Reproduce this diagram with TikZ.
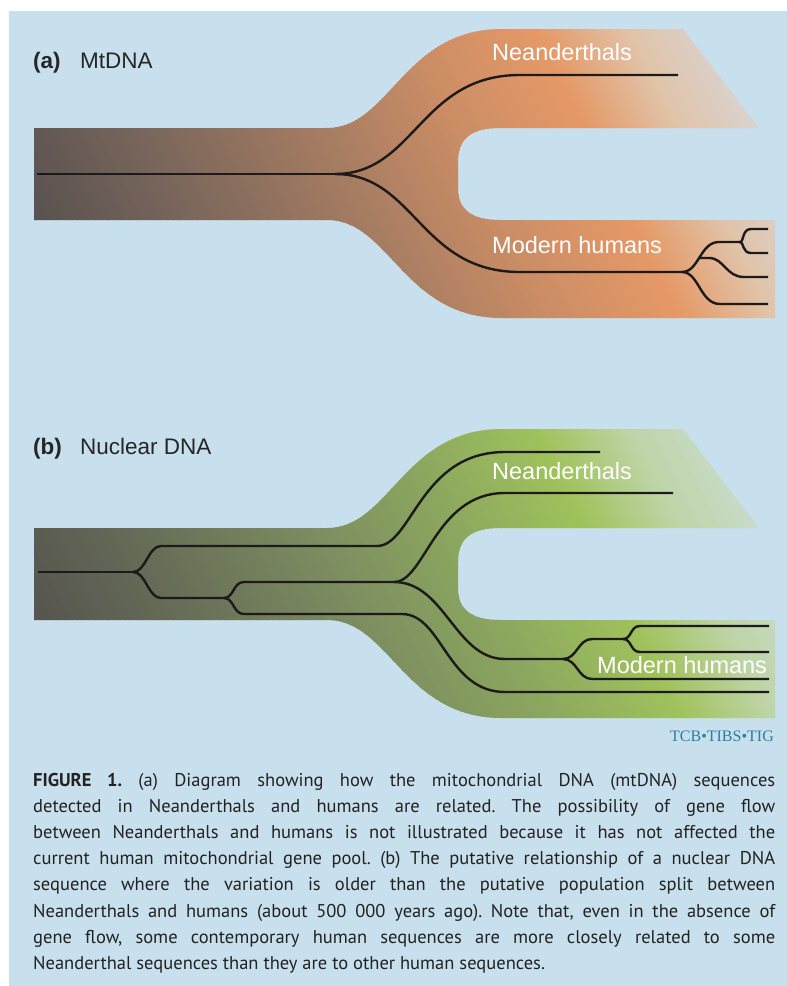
\documentclass[tikz,border=0pt]{standalone}
\usepackage{fontspec}
\setmainfont{Liberation Sans}
\newfontfamily\capfont{PT Sans}
\newfontfamily\serfont{Liberation Serif}
\definecolor{bgblue}{RGB}{200,224,237}
\definecolor{treecol}{RGB}{28,26,26}
\definecolor{ttlcol}{RGB}{38,38,38}
\definecolor{capcol}{RGB}{34,34,34}
\definecolor{tcbcol}{RGB}{40,128,160}
% orange gradient (a)
\definecolor{o0}{RGB}{86,80,79}
\definecolor{o1}{RGB}{125,104,92}
\definecolor{o2}{RGB}{165,124,98}
\definecolor{o3}{RGB}{203,141,101}
\definecolor{o4}{RGB}{229,153,103}
\definecolor{o5}{RGB}{225,195,168}
\definecolor{o6}{RGB}{214,218,224}
% green gradient (b)
\definecolor{g0}{RGB}{84,82,78}
\definecolor{g1}{RGB}{105,112,88}
\definecolor{g2}{RGB}{125,142,96}
\definecolor{g3}{RGB}{140,168,95}
\definecolor{g4}{RGB}{160,194,92}
\definecolor{g5}{RGB}{190,212,165}
\definecolor{g6}{RGB}{205,222,218}
\newcommand\gradstripes[1]{%
 \foreach \ta/\tb/\na/\nb in {0/180/0/1,180/340/1/2,340/480/2/3,480/610/3/4,610/700/4/5,700/820/5/6}{%
  \foreach \i in {0,...,29}{%
   \pgfmathsetmacro\tl{\ta+(\tb-\ta)*\i/30}%
   \pgfmathsetmacro\tr{\ta+(\tb-\ta)*(\i+1)/30+1.2}%
   \pgfmathtruncatemacro\p{100-100*(\i+0.5)/30}%
   \fill[fill=#1\na!\p!#1\nb] (\tl-80,14) -- (\tr-80,14) -- (\tr+80,334) -- (\tl+80,334) -- cycle;
  }}}
\tikzset{
 branchpath/.style={insert path={(34,128) -- (327,128) .. controls (390,128) and (403,29) .. (502,29) -- (683,29) -- (759,128) -- (500,128) .. controls (472,128) and (458,138) .. (458,162) -- (458,188) .. controls (458,210) and (472,220) .. (500,220) -- (775,220) -- (775,318) -- (502,318) .. controls (403,318) and (390,220) .. (327,220) -- (34,220) -- cycle}},
 tree/.style={line width=2.4pt, draw=treecol},
 lbl/.style={font=\fontsize{23.5}{28}\selectfont, text=white, inner sep=0pt, anchor=base west},
 ttl/.style={font=\fontsize{22.5}{27}\selectfont, text=ttlcol, inner sep=0pt, anchor=base west},
}
\newcommand\capline[1]{\hbox to\hsize{#1}}
\begin{document}
\begin{tikzpicture}[x=1pt,y=-1pt]
\useasboundingbox (0,0) rectangle (787,986);
\fill[white] (0,0) rectangle (787,986);
\fill[bgblue] (9,11) rectangle (787,986);
% panel (a) band
\begin{scope}
\clip[branchpath];
\gradstripes{o}
\end{scope}
% panel (b) band
\begin{scope}[shift={(0,400)}]
\clip[branchpath];
\gradstripes{g}
\end{scope}
% tree (a)
\coordinate (ra) at (37,174);
\coordinate (a1) at (335,174);
\coordinate (na) at (678,75);
\coordinate (a2) at (682,272);
\coordinate (a3) at (740,242);
\coordinate (ab) at (699.5,258);
\coordinate (h1) at (768,229);
\coordinate (h2) at (768,253);
\coordinate (h3) at (768,277);
\coordinate (h4) at (768,304);
\draw[tree] (ra) -- (a1);
\draw[tree] (a1) .. controls (415,174) and (420,75) .. (520,75) -- (na);
\draw[tree] (a1) .. controls (415,174) and (420,272) .. (520,272) -- (a2);
\draw[tree] (a2) .. controls (699,272) and (700,304) .. (720,304) -- (h4);
\draw[tree] (a2) .. controls (699,272) and (700,242) .. (719,242) -- (a3);
\draw[tree] (ab) -- (709,258) .. controls (724,258) and (726,277) .. (744,277) -- (h3);
\draw[tree] (a3) .. controls (744,242) and (742,229) .. (751,229) -- (h1);
\draw[tree] (a3) .. controls (744,242) and (742,253) .. (751,253) -- (h2);
% tree (b)
\coordinate (rb) at (38,572);
\coordinate (b1) at (133,572);
\coordinate (nb1) at (600,452);
\coordinate (b2) at (224,598);
\coordinate (b3) at (394,582);
\coordinate (nb2) at (673,493);
\coordinate (b4) at (563,659);
\coordinate (b5) at (623,639);
\coordinate (k1) at (769,626);
\coordinate (k2) at (769,652);
\coordinate (k3) at (769,679);
\coordinate (k4) at (769,692);
\draw[tree] (rb) -- (b1);
\draw[tree] (b1) .. controls (146,572) and (148,546) .. (161,546) -- (377,546) .. controls (412,546) and (420,452) .. (505,452) -- (nb1);
\draw[tree] (b1) .. controls (146,572) and (148,598) .. (161,598) -- (b2);
\draw[tree] (b2) .. controls (234,598) and (233,582) .. (244,582) -- (b3);
\draw[tree] (b2) .. controls (234,598) and (233,614) .. (244,614) -- (402,614) .. controls (442,614) and (447,692) .. (505,692) -- (k4);
\draw[tree] (b3) .. controls (425,582) and (435,493) .. (505,493) -- (nb2);
\draw[tree] (b3) .. controls (445,582) and (455,659) .. (505,659) -- (b4);
\draw[tree] (b4) .. controls (577,659) and (578,639) .. (592,639) -- (b5);
\draw[tree] (b4) .. controls (577,659) and (578,679) .. (592,679) -- (k3);
\draw[tree] (b5) .. controls (632,639) and (630,626) .. (640,626) -- (k1);
\draw[tree] (b5) .. controls (632,639) and (630,652) .. (640,652) -- (k2);
% labels
\node[lbl] (lna) at (492,60) {Neanderthals};
\node[lbl] (lma) at (492,253) {Modern humans};
\node[lbl] (lnb) at (492,479) {Neanderthals};
\node[lbl] (lmb) at (597,673) {Modern humans};
\node[ttl] (ta) at (33,68) {\bfseries (a)};
\node[ttl] (tma) at (80,68) {MtDNA};
\node[ttl] (tb) at (33,454) {\bfseries (b)};
\node[ttl] (tnb) at (80,454) {Nuclear DNA};
\node[anchor=base east, inner sep=0pt, text=tcbcol, font=\serfont\fontsize{16}{18}\selectfont] (tcb) at (774,741) {TCB•TIBS•TIG};
\node[anchor=base west, inner sep=0pt, text=capcol] (cap) at (33,786) {\vtop{\capfont\fontsize{18.5}{26.2}\selectfont\frenchspacing\hsize=742pt
\capline{\textbf{FIGURE 1.} (a) Diagram showing how the mitochondrial DNA (mtDNA) sequences}
\capline{detected in Neanderthals and humans are related. The possibility of gene flow}
\capline{between Neanderthals and humans is not illustrated because it has not affected the}
\capline{current human mitochondrial gene pool. (b) The putative relationship of a nuclear DNA}
\capline{sequence where the variation is older than the putative population split between}
\capline{Neanderthals and humans (about 500 000 years ago). Note that, even in the absence of}
\capline{gene flow, some contemporary human sequences are more closely related to some}
\hbox{Neanderthal sequences than they are to other human sequences.}}};
\end{tikzpicture}
\end{document}
